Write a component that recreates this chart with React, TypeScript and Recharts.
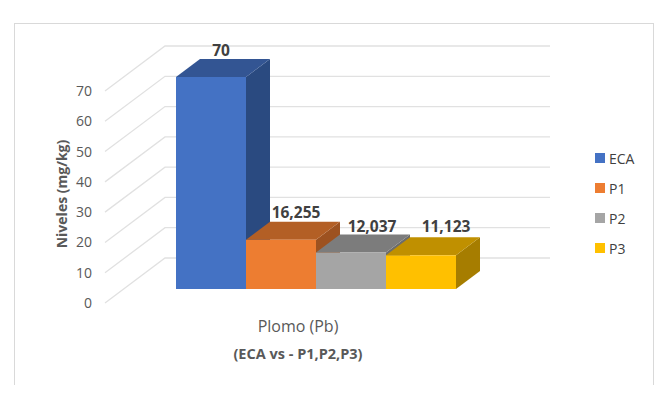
import React from 'react';
import { BarChart, Bar, XAxis, YAxis, Legend, LabelList, CartesianGrid } from 'recharts';

const categories = ['Plomo (Pb)'];
const ecaValues = [70];
const p1Values = [16.255];
const p2Values = [12.037];
const p3Values = [11.123];
const yTicks = [0, 10, 20, 30, 40, 50, 60, 70];

const data = categories.map((name, i) => ({
  name,
  ECA: ecaValues[i],
  P1: p1Values[i],
  P2: p2Values[i],
  P3: p3Values[i],
}));

// front, top and side faces of each fake 3D column
const seriesStyles = [
  { key: 'ECA', front: '#4472C4', top: '#335593', side: '#2A4A80', labelDx: 10, labelDy: 26 },
  { key: 'P1', front: '#ED7D31', top: '#B35F25', side: '#9D5220', labelDx: 15, labelDy: 27 },
  { key: 'P2', front: '#A5A5A5', top: '#7C7C7C', side: '#6C6C6C', labelDx: 21, labelDy: 26 },
  { key: 'P3', front: '#FFC000', top: '#C09000', side: '#A67D00', labelDx: 25, labelDy: 28 },
];

const DEPTH_X = 24;
const DEPTH_Y = 18;
const FONT = '"Open Sans", sans-serif';
const GRID = '#E1E1E1';

const Column = ({ x, y, width, height, front, top, side }: any) => (
  <g>
    <polygon
      points={`${x + width},${y} ${x + width + DEPTH_X},${y - DEPTH_Y} ${x + width + DEPTH_X},${y + height - DEPTH_Y} ${x + width},${y + height}`}
      fill={side}
    />
    <polygon
      points={`${x},${y} ${x + DEPTH_X},${y - DEPTH_Y} ${x + width + DEPTH_X},${y - DEPTH_Y} ${x + width},${y}`}
      fill={top}
    />
    <rect x={x} y={y} width={width} height={height} fill={front} />
  </g>
);

// side wall and back wall line for one value, placed from the grid's own y
const WallLine = (props: any) => (
  <polyline
    key={props.key ?? props.y1}
    points={`105,${props.y1 + 14} 165,${props.y1 - 31} 550,${props.y1 - 31}`}
    fill="none"
    stroke={GRID}
    strokeWidth={1.3}
  />
);

const WallTick = ({ y, payload }: any) => (
  <text x={92} y={y + 14} dy={5} textAnchor="end" fontSize={14} fontFamily={FONT} fill="#595959">
    {payload.value}
  </text>
);

const ValueLabel = ({ x, y, width, value, labelDx, labelDy }: any) => (
  <text
    x={x + width / 2 + labelDx}
    y={y - labelDy}
    dy={5}
    textAnchor="middle"
    fontSize={15.5}
    fontWeight={700}
    fontFamily={FONT}
    fill="#404040"
  >
    {String(value).replace('.', ',')}
  </text>
);

const CategoryTick = ({ x, y, payload }: any) => (
  <text x={x - 18} y={y + 30} dy={5} textAnchor="middle" fontSize={16} fontFamily={FONT} fill="#595959">
    {payload.value}
  </text>
);

const LegendList = ({ payload }: any) => (
  <div>
    {payload.map((item: any) => (
      <div key={item.value} style={{ display: 'flex', alignItems: 'center', height: 30 }}>
        <span style={{ width: 10, height: 10, background: item.color, marginRight: 4 }} />
        <span style={{ fontFamily: FONT, fontSize: 14, color: '#404040' }}>{item.value}</span>
      </div>
    ))}
  </div>
);

export default function App() {
  return (
    <div style={{ position: 'absolute', left: 0, top: 0, width: 666, height: 411, background: '#fff' }}>
      <div
        style={{
          position: 'absolute',
          left: 14,
          top: 23,
          width: 638,
          height: 361,
          borderTop: '1px solid #D9D9D9',
          borderLeft: '1px solid #D9D9D9',
          borderRight: '1px solid #D9D9D9',
        }}
      />
      <BarChart
        width={666}
        height={411}
        data={data}
        barCategoryGap={0}
        barGap={0}
        margin={{ top: 77, right: 210, bottom: 0, left: 0 }}
        style={{ position: 'absolute', left: 0, top: 0 }}
      >
        <CartesianGrid vertical={false} horizontal={(props: any) => <WallLine {...props} />} />
        <XAxis
          dataKey="name"
          height={122}
          axisLine={false}
          tickLine={false}
          tick={<CategoryTick />}
          label={{
            value: '(ECA vs - P1,P2,P3)',
            position: 'insideTop',
            dx: -18,
            dy: 55,
            fontSize: 14.5,
            fontWeight: 700,
            fontFamily: FONT,
            fill: '#595959',
          }}
        />
        <YAxis
          width={176}
          domain={[0, 70]}
          ticks={yTicks}
          axisLine={false}
          tickLine={false}
          tick={<WallTick />}
          label={{
            value: 'Niveles (mg/kg)',
            angle: -90,
            position: 'center',
            dx: -26,
            dy: 11,
            fontSize: 14,
            fontWeight: 700,
            fontFamily: FONT,
            fill: '#595959',
          }}
        />
        <Legend
          layout="vertical"
          align="center"
          verticalAlign="middle"
          content={<LegendList />}
          wrapperStyle={{ left: 595, top: 143, width: 60 }}
        />
        {seriesStyles.map((s) => (
          <Bar
            key={s.key}
            dataKey={s.key}
            fill={s.front}
            isAnimationActive={false}
            shape={<Column front={s.front} top={s.top} side={s.side} />}
          >
            <LabelList
              dataKey={s.key}
              content={(props: any) => <ValueLabel {...props} labelDx={s.labelDx} labelDy={s.labelDy} />}
            />
          </Bar>
        ))}
      </BarChart>
    </div>
  );
}
